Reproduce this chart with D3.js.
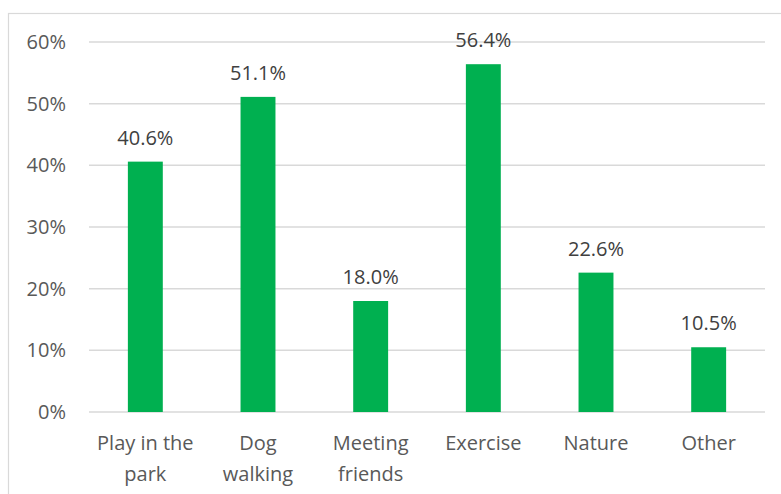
<!DOCTYPE html>
<html><head><meta charset="utf-8">
<script src="https://cdn.jsdelivr.net/npm/d3@7"></script>
<style>body{margin:0;background:#fff;}svg{display:block;}</style>
</head><body>
<script>
const categories = [["Play in the","park"],["Dog","walking"],["Meeting","friends"],["Exercise"],["Nature"],["Other"]];
const values = [40.6, 51.1, 18.0, 56.4, 22.6, 10.5];
const yTicks = [0, 10, 20, 30, 40, 50, 60];

const W = 781, H = 494;
const svg = d3.select("body").append("svg").attr("width", W).attr("height", H);
const font = "'Open Sans', sans-serif";
const fs = 20;

svg.append("rect").attr("x", 8.5).attr("y", 13.5).attr("width", 800).attr("height", 600)
  .attr("fill", "none").attr("stroke", "#d9d9d9").attr("stroke-width", 1.2);

const x = d3.scaleBand().domain(d3.range(categories.length)).range([89, 765]).paddingInner(0.69).paddingOuter(0.345);
const y = d3.scaleLinear().domain([0, 60]).range([412, 42]);

const g = svg.append("g");
g.selectAll("line.grid").data(yTicks).join("line")
  .attr("x1", 89).attr("x2", 765).attr("y1", d => y(d)).attr("y2", d => y(d))
  .attr("stroke", "#d9d9d9").attr("stroke-width", 1.5);

g.selectAll("text.yt").data(yTicks).join("text")
  .attr("x", 66).attr("y", d => y(d)).attr("dy", "0.35em").attr("text-anchor", "end")
  .attr("font-family", font).attr("font-size", fs).attr("fill", "#595959")
  .text(d => d + "%");

g.selectAll("rect.bar").data(values).join("rect")
  .attr("x", (d, i) => x(i)).attr("width", x.bandwidth())
  .attr("y", d => y(d)).attr("height", d => y(0) - y(d))
  .attr("fill", "#00b050");

g.selectAll("text.val").data(values).join("text")
  .attr("x", (d, i) => x(i) + x.bandwidth() / 2).attr("y", d => y(d) - 17)
  .attr("text-anchor", "middle").attr("font-family", font).attr("font-size", fs).attr("fill", "#404040")
  .text(d => d.toFixed(1) + "%");

const xl = g.selectAll("text.xl").data(categories).join("text")
  .attr("text-anchor", "middle").attr("font-family", font).attr("font-size", fs).attr("fill", "#595959");
xl.each(function(d, i) {
  const t = d3.select(this);
  d.forEach((line, j) => {
    t.append("tspan").attr("x", x(i) + x.bandwidth() / 2).attr("y", 450 + j * 30.5).text(line);
  });
});
</script>
</body></html>
